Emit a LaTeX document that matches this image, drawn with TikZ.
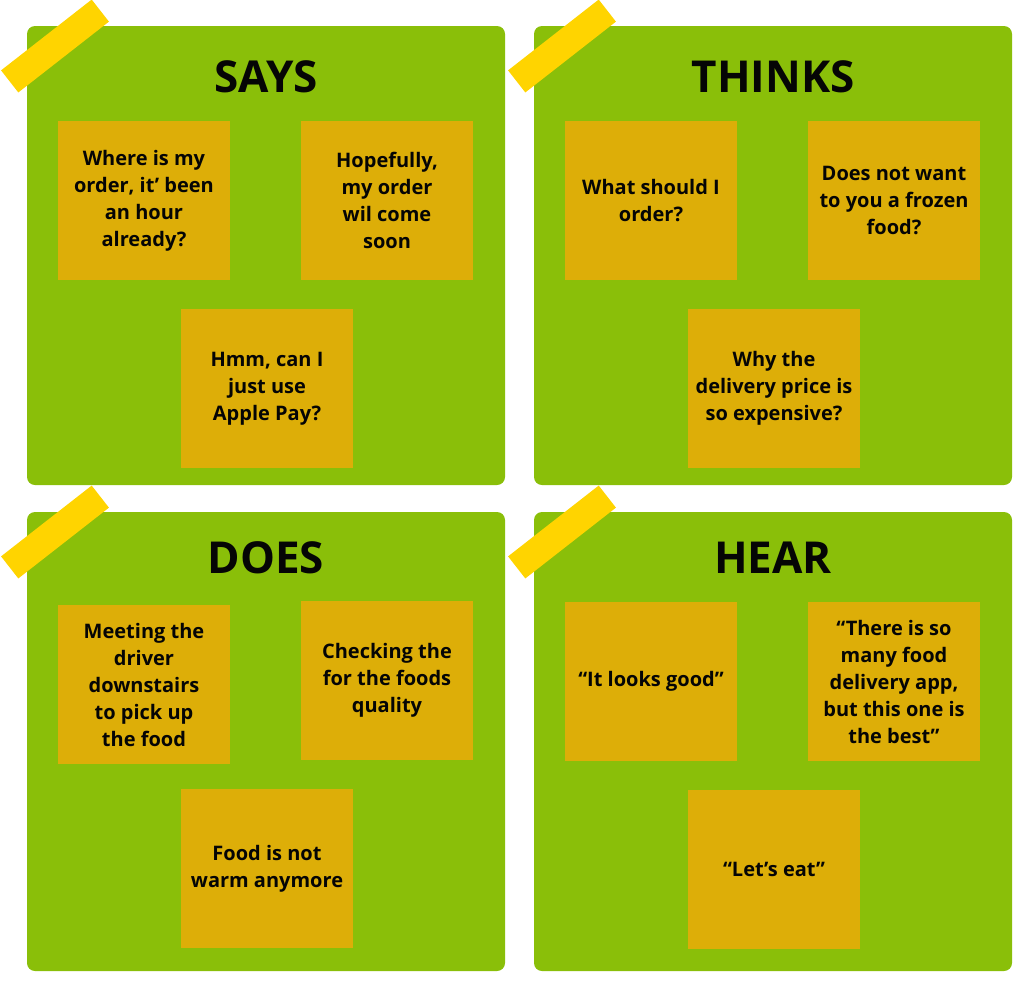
\documentclass[tikz,border=0pt]{standalone}
\usepackage{fontspec}
\setmainfont{Open Sans}
\definecolor{boardgreen}{RGB}{138,191,9}
\definecolor{stickynote}{RGB}{221,174,8}
\definecolor{tapeyellow}{RGB}{255,212,0}
\definecolor{inkblack}{RGB}{5,5,5}
\tikzset{
  panel/.style={fill=boardgreen, draw=none, rounded corners=8pt, minimum width=478pt, minimum height=459pt, inner sep=0pt},
  sticky/.style={fill=stickynote, draw=none, minimum width=172pt, minimum height=159pt, inner sep=0pt, align=center, text=inkblack, font=\fontsize{20}{27}\selectfont\bfseries},
  tapestrip/.style={fill=tapeyellow, draw=none, minimum width=115pt, minimum height=28pt, inner sep=0pt, rotate=38},
  paneltitle/.style={text=inkblack, inner sep=0pt, font=\fontsize{44}{50}\selectfont\bfseries}
}
\begin{document}
\begin{tikzpicture}[x=1pt, y=-1pt]
\useasboundingbox (0,0) rectangle (1033,997);
% panels
\node[panel] (p1) at (266,255.5) {};
\node[panel] (p2) at (773,255.5) {};
\node[panel] (p3) at (266,741.5) {};
\node[panel] (p4) at (773,741.5) {};
% tapes
\node[tapestrip] (t1) at (55,46) {};
\node[tapestrip] (t2) at (562,46) {};
\node[tapestrip] (t3) at (55,532) {};
\node[tapestrip] (t4) at (562,532) {};
% titles
\node[paneltitle] (h1) at (266,77) {SAYS};
\node[paneltitle] (h2) at (773,77) {THINKS};
\node[paneltitle] (h3) at (266,558) {DOES};
\node[paneltitle] (h4) at (773,558) {HEAR};
% SAYS
\node[sticky] (s1) at (144,200.5) {Where is my\\order, it’ been\\an hour\\already?};
\node[sticky] (s2) at (387,200.5) {Hopefully,\\my order\\wil come\\soon};
\node[sticky] (s3) at (267,388.5) {Hmm, can I\\just use\\Apple Pay?};
% THINKS
\node[sticky] (k1) at (651,200.5) {What should I\\order?};
\node[sticky] (k2) at (894,200.5) {Does not want\\to you a frozen\\food?};
\node[sticky] (k3) at (774,388.5) {Why the\\delivery price is\\so expensive?};
% DOES
\node[sticky] (d1) at (144,684.5) {Meeting the\\driver\\downstairs\\to pick up\\the food};
\node[sticky] (d2) at (387,680.5) {Checking the\\for the foods\\quality};
\node[sticky] (d3) at (267,868.5) {Food is not\\warm anymore};
% HEAR
\node[sticky] (r1) at (651,681.5) {“It looks good”};
\node[sticky] (r2) at (894,681.5) {“There is so\\many food\\delivery app,\\but this one is\\the best”};
\node[sticky] (r3) at (774,869.5) {“Let’s eat”};
\end{tikzpicture}
\end{document}
